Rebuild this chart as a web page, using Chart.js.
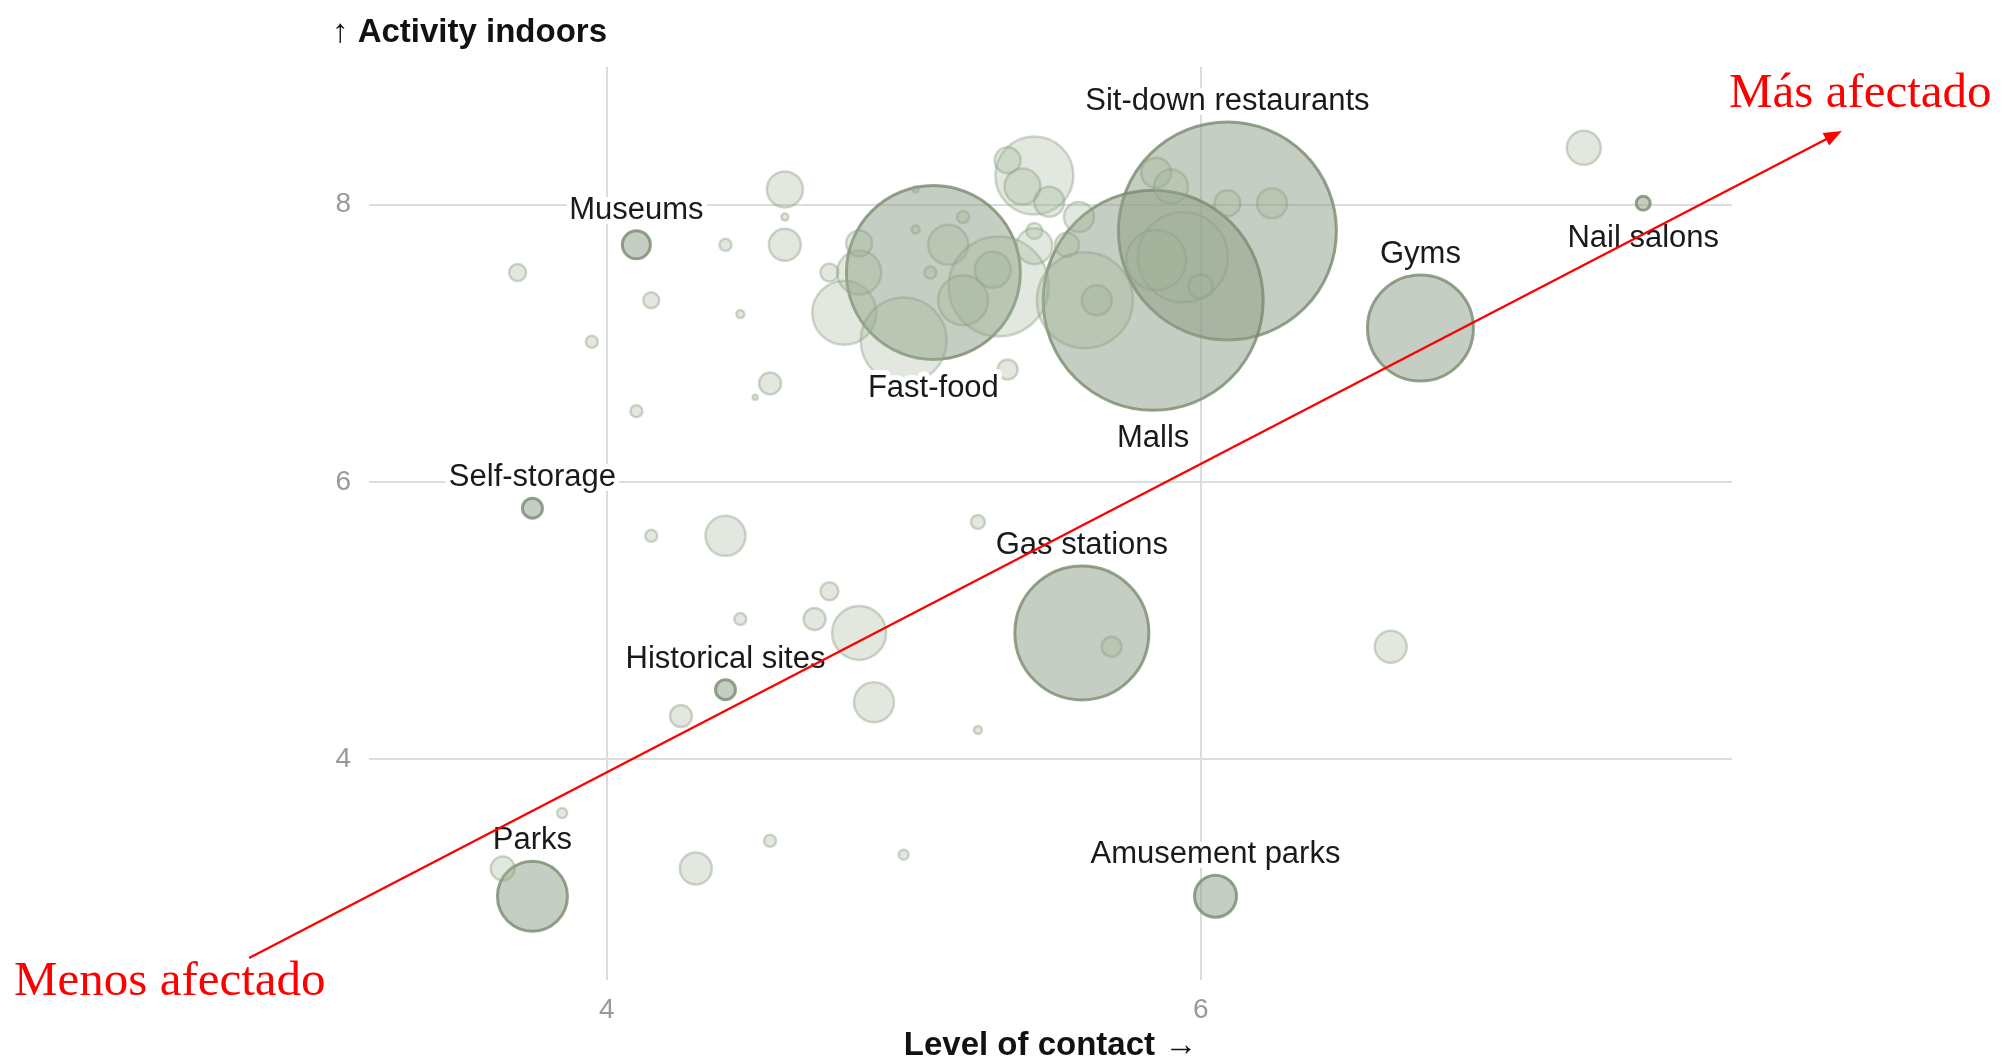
<!DOCTYPE html>
<html>
<head>
<meta charset="utf-8">
<script src="https://cdn.jsdelivr.net/npm/chart.js@4.4.1/dist/chart.umd.min.js"></script>
<style>
  html, body { margin: 0; padding: 0; background: #fff; }
  #wrap { width: 2010px; height: 1061px; position: relative; }
</style>
</head>
<body>
<div id="wrap"><canvas id="bubbles"></canvas></div>
<script>
// named businesses (darker bubbles)
const labeledNames = ['Sit-down restaurants', 'Malls', 'Fast-food', 'Gyms', 'Nail salons', 'Museums',
    'Self-storage', 'Gas stations', 'Historical sites', 'Parks', 'Amusement parks'];
const labeledContact = [6.09, 5.84, 5.10, 6.74, 7.49, 4.10, 3.75, 5.60, 4.40, 3.75, 6.05];
const labeledIndoors = [7.81, 7.31, 7.51, 7.11, 8.01, 7.71, 5.81, 4.91, 4.50, 3.01, 3.01];
const labeledSize = [109, 110, 87, 53, 7, 14, 10, 67, 10, 35, 21];
const labelsBelow = ['Malls', 'Fast-food', 'Nail salons'];

// the other businesses (pale bubbles)
const otherContact = [3.70, 3.95, 4.10, 4.15, 4.40, 4.45, 4.50, 4.55, 4.60, 4.60, 4.60, 4.75, 4.80, 5.00,
    4.85, 4.85, 5.04, 5.04, 5.09, 5.15, 5.20, 5.32, 5.30, 5.20, 5.35, 5.44, 5.35, 5.40, 5.49, 5.44, 5.44,
    5.55, 5.59, 5.61, 5.65, 5.85, 5.90, 6.09, 6.24, 5.94, 5.85, 6.00, 7.29, 6.64, 5.70, 5.25, 5.25, 4.15,
    4.40, 4.75, 4.45, 4.70, 4.85, 4.90, 4.25, 3.85, 3.65, 4.30, 4.55, 5.00];
const otherIndoors = [7.51, 7.01, 6.51, 7.31, 7.71, 7.21, 6.61, 6.71, 8.11, 7.91, 7.71, 7.51, 7.22, 7.02,
    7.51, 7.72, 7.82, 8.11, 7.51, 7.71, 7.91, 7.41, 7.53, 7.31, 6.81, 8.21, 8.32, 8.13, 8.02, 7.81, 7.70,
    7.71, 7.91, 7.31, 7.31, 8.23, 8.13, 8.01, 8.01, 7.62, 7.60, 7.41, 8.41, 4.81, 4.81, 5.71, 4.21, 5.61,
    5.61, 5.21, 5.01, 5.01, 4.91, 4.41, 4.31, 3.61, 3.21, 3.21, 3.41, 3.31];
const otherSize = [8.5, 6, 6, 8, 6, 4, 2.5, 11, 18, 3.5, 16, 9, 32, 43, 22, 13, 4, 3, 6, 20, 6, 50, 18, 25,
    10, 39, 13, 18, 15, 8, 18, 12, 15, 48, 15, 15, 17, 13, 15, 45, 30, 12, 17, 16, 10, 7, 4, 6, 20, 9, 6,
    11, 27, 20, 11, 5, 12, 16, 6, 5];

const xTicks = [4, 6];
const yTicks = [4, 6, 8];

// annotation arrow, in data units
const arrowFrom = [2.796, 2.564];
const arrowTo = [8.159, 8.531];

const sans = '"Liberation Sans", Arial, sans-serif';
const serif = '"Liberation Serif", "Times New Roman", serif';

function toPoints(xs, ys, rs) {
    return xs.map((x, i) => ({ x: x, y: ys[i], r: rs[i] }));
}

const annotations = {
    id: 'annotations',
    afterDatasetsDraw(chart) {
        const ctx = chart.ctx;
        const xs = chart.scales.x, ys = chart.scales.y;
        const meta = chart.getDatasetMeta(1);

        ctx.save();
        ctx.font = '31px ' + sans;
        ctx.textAlign = 'center';
        ctx.textBaseline = 'alphabetic';
        ctx.lineJoin = 'round';
        meta.data.forEach((pt, i) => {
            const name = labeledNames[i];
            const r = labeledSize[i];
            const y = labelsBelow.includes(name) ? pt.y + r + 37 : pt.y - r - 12;
            ctx.strokeStyle = '#ffffff';
            ctx.lineWidth = 10;
            ctx.strokeText(name, pt.x, y);
            ctx.fillStyle = '#1a1a1a';
            ctx.fillText(name, pt.x, y);
        });

        // red arrow
        const x0 = xs.getPixelForValue(arrowFrom[0]), y0 = ys.getPixelForValue(arrowFrom[1]);
        const x1 = xs.getPixelForValue(arrowTo[0]), y1 = ys.getPixelForValue(arrowTo[1]);
        const ang = Math.atan2(y1 - y0, x1 - x0);
        ctx.strokeStyle = '#ff0000';
        ctx.fillStyle = '#ff0000';
        ctx.lineWidth = 2.4;
        ctx.beginPath();
        ctx.moveTo(x0, y0);
        ctx.lineTo(x1 - 14 * Math.cos(ang), y1 - 14 * Math.sin(ang));
        ctx.stroke();
        ctx.beginPath();
        ctx.moveTo(x1, y1);
        ctx.lineTo(x1 - 18 * Math.cos(ang) + 7 * Math.sin(ang), y1 - 18 * Math.sin(ang) - 7 * Math.cos(ang));
        ctx.lineTo(x1 - 18 * Math.cos(ang) - 7 * Math.sin(ang), y1 - 18 * Math.sin(ang) + 7 * Math.cos(ang));
        ctx.closePath();
        ctx.fill();

        ctx.font = '49px ' + serif;
        ctx.textAlign = 'left';
        ctx.fillText('Más afectado', 1729, 107);
        ctx.fillText('Menos afectado', 14, 995);

        // axis titles
        const area = chart.chartArea;
        ctx.fillStyle = '#121212';
        ctx.font = 'bold 33px ' + sans;
        ctx.textAlign = 'left';
        ctx.fillText('↑ Activity indoors', 332, 42);
        ctx.textAlign = 'center';
        ctx.fillText('Level of contact →', (area.left + area.right) / 2, 1055);
        ctx.restore();
    }
};

const ctx = document.getElementById('bubbles').getContext('2d');
new Chart(ctx, {
    type: 'bubble',
    data: {
        datasets: [{
            label: 'Other businesses',
            data: toPoints(otherContact, otherIndoors, otherSize),
            backgroundColor: 'rgba(158, 178, 148, 0.3)',
            borderColor: 'rgba(140, 160, 130, 0.42)',
            borderWidth: 2.5
        }, {
            label: 'Named businesses',
            data: toPoints(labeledContact, labeledIndoors, labeledSize),
            backgroundColor: 'rgba(141, 155, 133, 0.5)',
            borderColor: 'rgba(120, 140, 110, 0.8)',
            borderWidth: 3
        }]
    },
    options: {
        responsive: true,
        maintainAspectRatio: false,
        animation: false,
        events: [],
        clip: false,
        layout: {
            autoPadding: false,
            padding: { left: 309, top: 67, right: 278, bottom: 21 }
        },
        plugins: {
            legend: { display: false },
            tooltip: { enabled: false },
            title: { display: false }
        },
        scales: {
            x: {
                type: 'linear',
                min: 3.1997,
                max: 7.789,
                afterBuildTicks: scale => { scale.ticks = xTicks.map(v => ({ value: v })); },
                afterFit: scale => { scale.height = 60; },
                border: { display: false },
                grid: { color: '#dcdcdc', lineWidth: 2, drawTicks: false },
                ticks: { padding: 13, color: '#9a9a9a', font: { family: sans, size: 28 } }
            },
            y: {
                type: 'linear',
                min: 2.4055,
                max: 8.993,
                afterBuildTicks: scale => { scale.ticks = yTicks.map(v => ({ value: v })); },
                afterFit: scale => { scale.width = 60; },
                border: { display: false },
                grid: { color: '#dcdcdc', lineWidth: 2, drawTicks: false },
                ticks: { padding: 18, color: '#9a9a9a', font: { family: sans, size: 28 } }
            }
        }
    },
    plugins: [annotations]
});
</script>
</body>
</html>
